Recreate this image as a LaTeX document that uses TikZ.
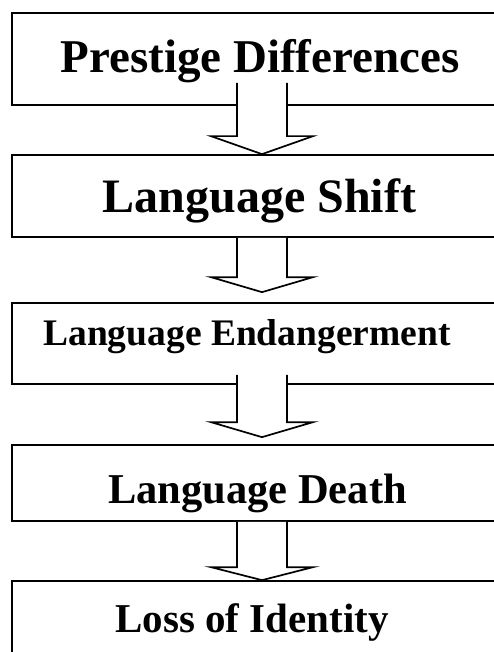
\documentclass[tikz,border=0pt]{standalone}
\usepackage{fontspec}
\setmainfont{Liberation Serif}
\usetikzlibrary{calc}

\tikzset{
    stage/.style={draw, line width=1.7pt, fill=white, inner sep=0pt,
                  minimum width=500pt, text depth=0pt, font=\bfseries},
    flowarrow/.style={draw, line width=1.7pt, fill=white, line join=miter}
}

% hollow block arrow: from (#1) shaft start, down to tip (#2)
\newcommand{\blockarrow}[3]{%
    \draw[flowarrow] ($(#1)+(-25,0)$) -- ($(#2)+(-25,-#3)$) -- ($(#2)+(-51,-#3)$)
        -- (#2) -- ($(#2)+(51,-#3)$) -- ($(#2)+(25,-#3)$) -- ($(#1)+(25,0)$);}

\begin{document}
\begin{tikzpicture}[x=1pt, y=-1pt]
\useasboundingbox (0,0) rectangle (494,652);
\clip (0,0) rectangle (494,652);

\node[stage, minimum height=92pt, text height=28pt, font=\bfseries\fontsize{47}{50}\selectfont] (prestige) at (262,59) {Prestige Differences\hspace*{4pt}};
\node[stage, minimum height=82pt, text height=32pt, font=\bfseries\fontsize{48}{50}\selectfont] (shift) at (262,196) {Language Shift\hspace*{5pt}};
\node[stage, minimum height=81pt, text height=3pt, font=\bfseries\fontsize{37.5}{40}\selectfont] (endanger) at (262,343.5) {Language Endangerment\hspace*{30pt}};
\node[stage, minimum height=76pt, text height=40pt, font=\bfseries\fontsize{42.5}{46}\selectfont] (death) at (262,483) {Language Death\hspace*{9pt}};
\node[stage, minimum height=80pt, text height=22pt, font=\bfseries\fontsize{41}{44}\selectfont] (identity) at (262,621) {Loss of Identity\hspace*{20pt}};

% arrows between stages
\coordinate (a1) at ($(prestige.south)+(0,-23)$);
\blockarrow{a1}{shift.north}{18}
\blockarrow{shift.south}{$(endanger.north)+(0,-10)$}{15}
\coordinate (a3) at ($(endanger.south)+(0,-10)$);
\blockarrow{a3}{$(death.north)+(0,-7)$}{15}
\blockarrow{death.south}{identity.north}{13}
\end{tikzpicture}
\end{document}
